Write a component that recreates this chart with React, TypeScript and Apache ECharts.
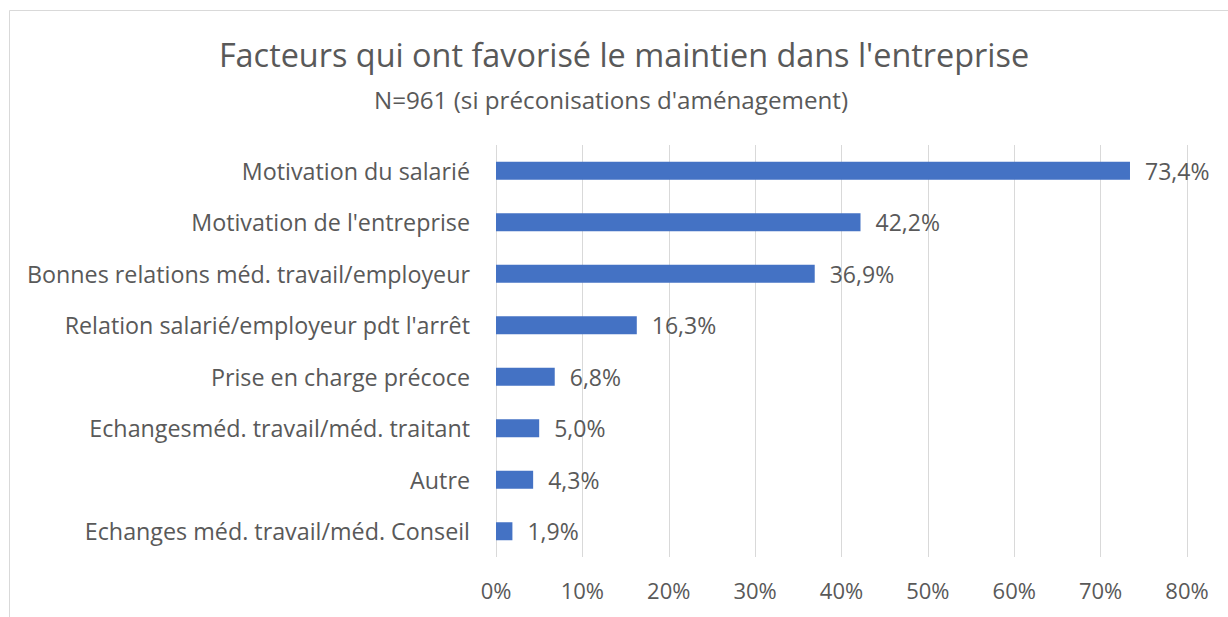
import React, { useEffect, useRef } from "react";
import * as echarts from "echarts";

const categories = [
  "Motivation du salarié",
  "Motivation de l'entreprise",
  "Bonnes relations méd. travail/employeur",
  "Relation salarié/employeur pdt l'arrêt",
  "Prise en charge précoce",
  "Echangesméd. travail/méd. traitant",
  "Autre",
  "Echanges méd. travail/méd. Conseil",
];
const values = [73.4, 42.2, 36.9, 16.3, 6.8, 5.0, 4.3, 1.9];
const titleText = "Facteurs qui ont favorisé le maintien dans l'entreprise";
const subtitleText = "N=961 (si préconisations d'aménagement)";

const FONT = "'Open Sans', 'Noto Sans', sans-serif";
const TEXT = "#595959";

export default function App() {
  const ref = useRef<HTMLDivElement>(null);
  useEffect(() => {
    if (!ref.current) return;
    const chart = echarts.init(ref.current, undefined, { renderer: "svg" });
    chart.setOption({
      animation: false,
      textStyle: { fontFamily: FONT },
      title: [
        {
          text: titleText,
          left: 619,
          textAlign: "center",
          top: 33,
          textStyle: { fontFamily: FONT, fontSize: 32.4, fontWeight: "normal", color: TEXT },
        },
        {
          text: subtitleText,
          left: 606,
          textAlign: "center",
          top: 82,
          textStyle: { fontFamily: FONT, fontSize: 24.2, fontWeight: "normal", color: TEXT },
        },
      ],
      graphic: [
        {
          type: "rect",
          shape: { x: 9.5, y: 10.5, width: 1300, height: 700 },
          style: { fill: "none", stroke: "#d9d9d9", lineWidth: 1 },
          silent: true,
        },
      ],
      grid: { left: 496, right: 41, top: 145, bottom: 60, containLabel: false },
      xAxis: {
        type: "value",
        min: 0,
        max: 80,
        interval: 10,
        axisLine: { show: false },
        axisTick: { show: false },
        splitLine: { show: true, lineStyle: { color: "#d9d9d9", width: 1 } },
        axisLabel: {
          formatter: (v: number) => `${v}%`,
          color: TEXT,
          fontSize: 22,
          fontFamily: FONT,
          margin: 22,
        },
      },
      yAxis: {
        type: "category",
        inverse: true,
        data: categories,
        axisLine: { show: false },
        axisTick: { show: false },
        axisLabel: { color: TEXT, fontSize: 23.3, fontFamily: FONT, margin: 26 },
      },
      series: [
        {
          type: "bar",
          data: values,
          barWidth: 18,
          itemStyle: { color: "#4472c4" },
          label: {
            show: true,
            position: "right",
            distance: 15,
            color: TEXT,
            fontSize: 23,
            fontFamily: FONT,
            formatter: (p: any) => `${p.value.toFixed(1).replace(".", ",")}%`,
          },
        },
      ],
    });
    return () => chart.dispose();
  }, []);
  return (
    <div
      ref={ref}
      style={{ position: "fixed", left: 0, top: 0, width: 1228, height: 617, background: "#fff" }}
    />
  );
}
